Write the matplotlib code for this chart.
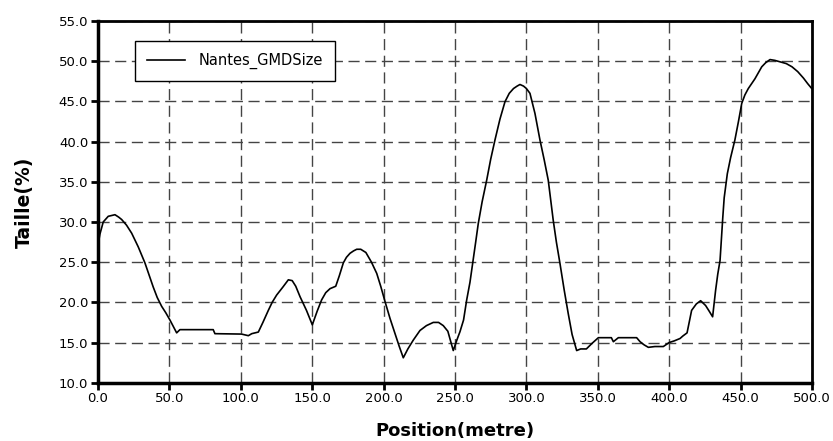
import numpy as np
import matplotlib
matplotlib.use("Agg")
import matplotlib.pyplot as plt

# position (metre) and size (%)
position = [0.0, 0.7, 1.4, 3.7, 7.2, 11.9, 14.5, 16.6, 20.0, 23.6, 28.2, 32.9,
            35.8, 38.7, 41.5, 44.6, 47.5, 50.4, 53.0, 55.1, 57.4, 80.7, 81.9,
            100.5, 105.3, 107.7, 112.3, 115.5, 119.3, 122.0, 125.1, 129.5,
            133.3, 136.0, 138.5, 141.5, 146.0, 150.1, 153.5, 156.6, 159.5,
            162.5, 166.5, 169.0, 171.8, 174.0, 176.5, 179.0, 181.2, 184.0,
            187.6, 191.5, 195.2, 198.0, 201.0, 204.5, 208.0, 211.0, 213.8,
            217.0, 220.8, 225.5, 230.0, 234.8, 238.5, 241.8, 245.0, 248.8,
            251.5, 253.5, 256.0, 258.2, 260.5, 262.4, 264.5, 266.3, 269.0,
            272.2, 275.0, 278.0, 281.5, 285.0, 288.0, 291.0, 293.5, 295.5,
            298.0, 300.0, 302.5, 306.0, 309.5, 312.5, 315.3, 318.8, 321.0,
            323.5, 326.5, 329.3, 332.0, 335.2, 338.0, 342.0, 346.0, 350.4,
            359.5, 360.9, 364.4, 377.2, 379.6, 382.5, 385.4, 390.0, 395.9,
            400.0, 403.5, 407.6, 409.5, 412.5, 415.7, 419.0, 422.0, 425.5,
            428.0, 430.4, 432.5, 434.0, 435.6, 437.5, 438.5, 440.7, 443.0,
            446.0, 448.5, 450.8, 453.0, 455.4, 460.0, 464.8, 467.5, 470.6,
            474.0, 478.0, 482.0, 486.0, 490.0, 494.0, 497.0, 499.8]
size_pct = [27.3, 27.8, 28.5, 30.0, 30.7, 30.9, 30.6, 30.3, 29.6, 28.6, 26.9,
            24.9, 23.4, 21.9, 20.6, 19.5, 18.7, 17.8, 16.9, 16.2, 16.6, 16.6,
            16.1, 16.05, 15.85, 16.1, 16.3, 17.5, 19.0, 20.0, 20.9, 21.9,
            22.8, 22.7, 22.0, 20.7, 19.0, 17.2, 18.9, 20.3, 21.2, 21.7, 22.0,
            23.3, 24.9, 25.6, 26.1, 26.4, 26.6, 26.6, 26.2, 25.0, 23.6, 22.0,
            20.1, 18.0, 16.1, 14.5, 13.1, 14.2, 15.3, 16.5, 17.1, 17.5, 17.5,
            17.1, 16.4, 14.0, 15.4, 16.35, 17.8, 20.3, 22.5, 24.85, 27.5,
            29.8, 32.5, 35.2, 37.8, 40.2, 42.8, 44.95, 46.0, 46.6, 46.9,
            47.1, 46.9, 46.6, 46.0, 43.5, 40.2, 37.7, 35.2, 30.2, 27.5,
            24.85, 21.5, 18.6, 16.0, 14.0, 14.2, 14.2, 14.9, 15.6, 15.6,
            15.1, 15.6, 15.6, 15.1, 14.7, 14.4, 14.5, 14.5, 15.0, 15.2, 15.5,
            15.8, 16.2, 19.0, 19.8, 20.2, 19.6, 18.9, 18.2, 21.5, 23.5, 25.2,
            30.5, 33.0, 36.0, 38.0, 40.2, 42.5, 44.75, 45.8, 46.6, 47.8,
            49.3, 49.8, 50.2, 50.1, 49.9, 49.7, 49.3, 48.7, 47.9, 47.2, 46.6]

fig = plt.figure(figsize=(8.33, 4.41), dpi=100)
ax = fig.add_axes([0.1176, 0.1322, 0.8572, 0.8202])

ax.plot(position, size_pct, color="black", lw=1.2, label="Nantes_GMDSize")

ax.set_xlim(0, 500)
ax.set_ylim(10, 55)
ax.set_xticks(np.arange(0, 501, 50))
ax.set_yticks(np.arange(10, 56, 5))
ax.set_xticklabels([f"{v:.1f}" for v in np.arange(0, 501, 50)])
ax.set_yticklabels([f"{v:.1f}" for v in np.arange(10, 56, 5)])
ax.tick_params(direction="out", length=5, width=2, labelsize=9.5, pad=2)

ax.grid(True, color="#444444", lw=1, linestyle=(0, (8, 4)))
for side in ("left", "bottom"):
    ax.spines[side].set_linewidth(2.5)
for side in ("top", "right"):
    ax.spines[side].set_linewidth(2)

ax.set_xlabel("Position(metre)", fontsize=13, fontweight="bold", labelpad=12)
ax.set_ylabel("Taille(%)", fontsize=13.5, fontweight="bold", labelpad=18)

leg = ax.legend(loc="upper left", bbox_to_anchor=(0.0518, 0.9447),
                borderaxespad=0, fontsize=10.5, fancybox=False,
                framealpha=1, edgecolor="black", handlelength=2.6,
                borderpad=0.8, handletextpad=1.0)
leg.get_frame().set_linewidth(1.0)

fig.savefig("out.png", dpi=100, facecolor="w")
